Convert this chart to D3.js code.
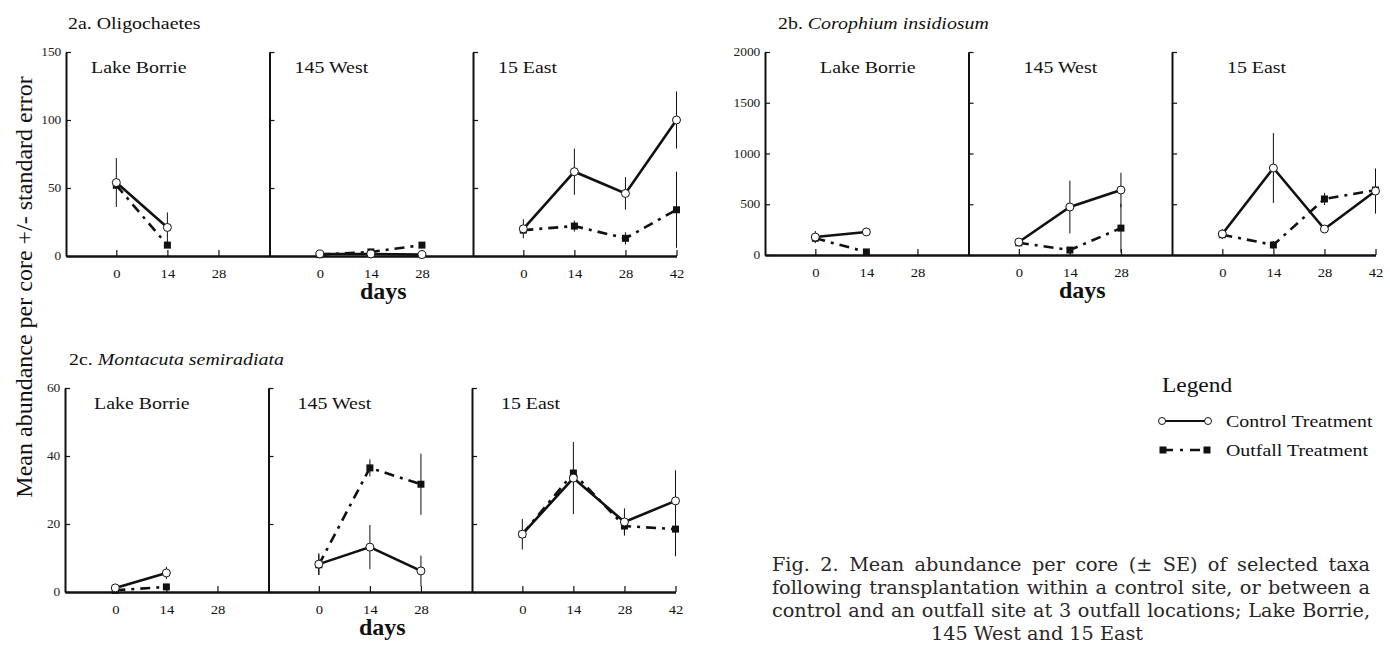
<!DOCTYPE html>
<html>
<head>
<meta charset="utf-8">
<script src="https://cdn.jsdelivr.net/npm/d3@7"></script>
<style>
  body { margin: 0; background: #fff; }
  svg { display: block; }
</style>
</head>
<body>
<svg id="fig" width="1390" height="646"></svg>
<script>
// sites and sampling days (days after transplantation)
const sites = ["Lake Borrie", "145 West", "15 East"];
const sampleDays = [[0, 14], [0, 14, 28], [0, 14, 28, 42]];
const tickDays = [[0, 14, 28], [0, 14, 28], [0, 14, 28, 42]];

// 2a. Oligochaetes
const oligoControl   = [[54, 21], [1.5, 1.5, 1], [20, 62, 46, 100]];
const oligoControlSE = [[18, 11], [0, 0, 0], [7, 17, 12, 21]];
const oligoOutfall   = [[52, 8], [1, 3, 8], [19, 22, 13, 34]];
const oligoOutfallSE = [[0, 0], [0, 0, 0], [0, 4, 4.5, 28]];
const oligoTicks = [0, 50, 100, 150];

// 2b. Corophium insidiosum
const coroControl   = [[177, 227], [128, 473, 640], [207, 857, 256, 630]];
const coroControlSE = [[60, 40], [20, 260, 170], [50, 344, 40, 222]];
const coroOutfall   = [[165, 30], [120, 49, 265], [200, 99, 552, 640]];
const coroOutfallSE = [[0, 0], [0, 0, 240], [0, 40, 60, 0]];
const coroTicks = [0, 500, 1000, 1500, 2000];

// 2c. Montacuta semiradiata
const montControl   = [[1.2, 5.6], [8.2, 13.2, 6.2], [17, 33.5, 20.6, 26.8]];
const montControlSE = [[0, 1.8], [3.2, 6.5, 4.5], [4.5, 10.6, 4, 9]];
const montOutfall   = [[0.5, 1.5], [8, 36.5, 31.7], [17, 35, 19.4, 18.5]];
const montOutfallSE = [[0, 0], [3, 2.5, 9], [0, 0, 2.5, 8]];
const montTicks = [0, 20, 40, 60];

const captionLines = [
  "Fig. 2. Mean abundance per core (\u00b1 SE) of selected taxa",
  "following transplantation within a control site, or between a",
  "control and an outfall site at 3 outfall locations; Lake Borrie,",
  "145 West and 15 East"
];

const SERIF = "'Liberation Serif', 'Times New Roman', serif";
const SX = 1.17;          // the scanned lettering is a bit wider than Times
const CX = 1.07;          // same for the caption face
const PANEL_W = 203.5;

const svg = d3.select("#fig").style("font-family", SERIF);

// text with a horizontal stretch
function stext(g, x, y, str, size, anchor) {
  return g.append("text")
    .attr("transform", `translate(${x},${y}) scale(${SX},1)`)
    .attr("text-anchor", anchor || "start")
    .attr("font-family", SERIF)
    .attr("font-size", size)
    .attr("fill", "#111")
    .text(str);
}

function series(days, vals, se) {
  return days.map((d, k) => ({ day: d, v: vals[k], se: se[k] }));
}

function drawFigure(cfg) {
  const g = svg.append("g");
  const y = d3.scaleLinear().domain([0, cfg.yTicks[cfg.yTicks.length - 1]])
    .range([cfg.bottom, cfg.top]);

  sites.forEach((site, i) => {
    const left = cfg.left + i * PANEL_W;
    const x = d3.scaleLinear().domain([-13.8, 42]).range([left, left + PANEL_W]);

    // x axis
    const xa = g.append("g")
      .attr("transform", `translate(0,${cfg.bottom})`)
      .call(d3.axisBottom(x).tickValues(tickDays[i])
        .tickSizeInner(-6).tickSizeOuter(0).tickPadding(13));
    xa.select(".domain").attr("stroke-width", 2.4).attr("stroke", "#111");
    xa.selectAll(".tick line").attr("stroke-width", 1.2).attr("stroke", "#111");
    xa.selectAll(".tick text")
      .attr("font-family", SERIF).attr("font-size", 12.5).attr("fill", "#111")
      .attr("transform", `scale(${SX},1)`);

    // y axis (labels only on the first panel)
    const ya = g.append("g")
      .attr("transform", `translate(${left},0)`)
      .call(d3.axisLeft(y).tickValues(cfg.yTicks)
        .tickSizeInner(-5).tickSizeOuter(0).tickPadding(4)
        .tickFormat(i === 0 ? d3.format("d") : () => ""));
    ya.select(".domain").attr("stroke-width", 2).attr("stroke", "#111");
    ya.selectAll(".tick line").attr("stroke-width", 1.2).attr("stroke", "#111");
    ya.selectAll(".tick text")
      .attr("font-family", SERIF).attr("font-size", 11.5).attr("fill", "#222")
      .attr("transform", `scale(${SX},1)`);

    stext(g, left + cfg.labelDx, cfg.top + 21, site, 17);

    const ctrl = series(sampleDays[i], cfg.control[i], cfg.controlSE[i]);
    const outf = series(sampleDays[i], cfg.outfall[i], cfg.outfallSE[i]);

    // error bars
    g.append("g").attr("stroke", "#111").attr("stroke-width", 1)
      .selectAll("line")
      .data(ctrl.concat(outf).filter(d => d.se > 0))
      .join("line")
      .attr("x1", d => x(d.day)).attr("x2", d => x(d.day))
      .attr("y1", d => y(d.v + d.se))
      .attr("y2", d => y(Math.max(0, d.v - d.se)));

    const line = d3.line().x(d => x(d.day)).y(d => y(d.v));

    // outfall treatment
    g.append("path").datum(outf)
      .attr("d", line).attr("fill", "none").attr("stroke", "#111")
      .attr("stroke-width", 2.6).attr("stroke-dasharray", "10,6,3,6");
    g.append("g").selectAll("rect")
      .data(outf).join("rect")
      .attr("x", d => x(d.day) - 3.5).attr("y", d => y(d.v) - 3.5)
      .attr("width", 7).attr("height", 7).attr("fill", "#111");

    // control treatment
    g.append("path").datum(ctrl)
      .attr("d", line).attr("fill", "none").attr("stroke", "#111")
      .attr("stroke-width", 2.6);
    g.append("g").selectAll("circle")
      .data(ctrl).join("circle")
      .attr("cx", d => x(d.day)).attr("cy", d => y(d.v)).attr("r", 4)
      .attr("fill", "#fff").attr("stroke", "#111").attr("stroke-width", 1);
  });

  // figure title
  const t = g.append("text")
    .attr("transform", `translate(${cfg.titleX},${cfg.top - 23}) scale(${SX},1)`)
    .attr("font-family", SERIF).attr("font-size", 17).attr("fill", "#111");
  t.append("tspan").text(cfg.titleNum + " ");
  t.append("tspan").attr("font-style", cfg.italic ? "italic" : null).text(cfg.title);

  // days label under middle panel
  g.append("text")
    .attr("x", cfg.left + 1.5 * PANEL_W + 12).attr("y", cfg.bottom + 43)
    .attr("text-anchor", "middle").attr("font-family", SERIF)
    .attr("font-size", 24).attr("font-weight", "bold")
    .attr("fill", "#111").text("days");
}

drawFigure({
  left: 66, top: 52, bottom: 256, yTicks: oligoTicks, labelDx: 25,
  control: oligoControl, controlSE: oligoControlSE,
  outfall: oligoOutfall, outfallSE: oligoOutfallSE,
  titleX: 68, titleNum: "2a.", title: "Oligochaetes", italic: false
});
drawFigure({
  left: 765, top: 52, bottom: 255, yTicks: coroTicks, labelDx: 55,
  control: coroControl, controlSE: coroControlSE,
  outfall: coroOutfall, outfallSE: coroOutfallSE,
  titleX: 778, titleNum: "2b.", title: "Corophium insidiosum", italic: true
});
drawFigure({
  left: 65, top: 388, bottom: 592, yTicks: montTicks, labelDx: 29,
  control: montControl, controlSE: montControlSE,
  outfall: montOutfall, outfallSE: montOutfallSE,
  titleX: 69, titleNum: "2c.", title: "Montacuta semiradiata", italic: true
});

// shared y axis title
svg.append("text")
  .attr("transform", "translate(32,287) rotate(-90)")
  .attr("text-anchor", "middle").attr("font-family", SERIF)
  .attr("font-size", 24).attr("fill", "#111")
  .text("Mean abundance per core +/- standard error");

// legend
const lg = svg.append("g");
stext(lg, 1162, 392, "Legend", 20);
lg.append("line").attr("x1", 1162).attr("x2", 1208).attr("y1", 421).attr("y2", 421)
  .attr("stroke", "#111").attr("stroke-width", 2.2);
lg.selectAll("circle").data([1162, 1208]).join("circle")
  .attr("cx", d => d).attr("cy", 421).attr("r", 3.5)
  .attr("fill", "#fff").attr("stroke", "#111").attr("stroke-width", 1);
stext(lg, 1226, 427, "Control Treatment", 17);
lg.append("line").attr("x1", 1163).attr("x2", 1207).attr("y1", 450).attr("y2", 450)
  .attr("stroke", "#111").attr("stroke-width", 2.6).attr("stroke-dasharray", "10,7,3,7");
lg.selectAll("rect").data([1163, 1207]).join("rect")
  .attr("x", d => d - 3.5).attr("y", 446.5).attr("width", 7).attr("height", 7)
  .attr("fill", "#111");
stext(lg, 1226, 456, "Outfall Treatment", 17);

// caption, first three lines justified between 772 and 1370
const cap = svg.append("g")
  .attr("font-family", "'DejaVu Serif', serif").attr("font-size", 18).attr("fill", "#2a2627");
captionLines.forEach((s, k) => {
  const yb = 571 + k * 23;
  const last = k === captionLines.length - 1;
  const t = cap.append("text").text(s);
  if (last) {
    t.attr("transform", `translate(1037,${yb}) scale(${CX},1)`).attr("text-anchor", "middle");
  } else {
    t.attr("transform", `translate(772,${yb}) scale(${CX},1)`);
    const w = t.node().getComputedTextLength();
    const gaps = s.split(" ").length - 1;
    t.attr("word-spacing", (598 / CX - w) / gaps);
  }
});
</script>
</body>
</html>
